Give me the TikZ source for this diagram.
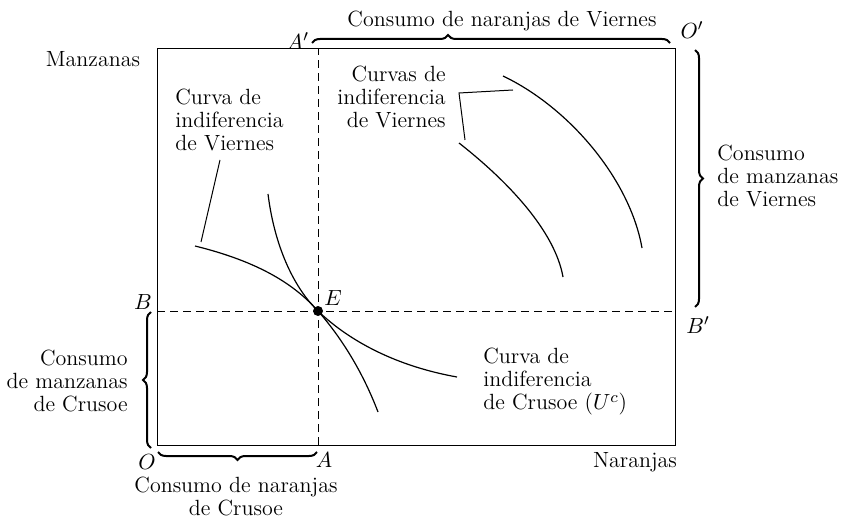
\documentclass[tikz,border=0pt]{standalone}
\usepackage{amsmath}
\usepackage{tikz}
\usetikzlibrary{decorations.pathreplacing,calc}
\tikzset{every picture/.style={>=stealth},
  txt/.style={font=\fontsize{11}{11.5}\selectfont,inner sep=0pt},
  brc/.style={decorate,decoration={brace,amplitude=4pt},line width=1pt},
  curve/.style={line width=0.6pt},
  dsh/.style={dash pattern=on 4pt off 2.5pt,line width=0.4pt}}

\begin{document}
\begin{tikzpicture}[x=0.5pt,y=-0.5pt]
  \useasboundingbox (0,0) rectangle (844,523);
  \coordinate (O) at (157,445);
  \coordinate (Op) at (675,49);
  \coordinate (E) at (318,311);
  \coordinate (A) at (E |- O);
  \coordinate (Ap) at (E |- Op);
  \coordinate (B) at (O |- E);
  \coordinate (Bp) at (Op |- E);
  \draw [line width=0.5pt] (O) rectangle (Op);
  \draw [dsh] (A) -- (Ap);
  \draw [dsh] (B) -- (Bp);
  % curvas de indiferencia
  \draw [curve] (195,246) .. controls (260,262) and (295,285) .. (E)
    .. controls (340,336) and (362,370) .. (378,412);
  \draw [curve] (268,194) .. controls (275,250) and (296,290) .. (E)
    .. controls (345,337) and (390,365) .. (457,377);
  \draw [curve] (503,76) .. controls (570,108) and (630,180) .. (642,248);
  \draw [curve] (459,143) .. controls (510,183) and (555,232) .. (563,277);
  \node (dotE) [circle,fill,inner sep=0pt,minimum size=5pt] at (E) {};
  % etiquetas
  \node (man) [txt] at (93,59) {Manzanas};
  \node (nar) [txt] at (635,462) {Naranjas};
  \node (lO) [txt] at (147,462) {$O$};
  \node (lA) [txt] at (324,460) {$A$};
  \node (lB) [txt] at (143,302) {$B$};
  \node (lBp) [txt] at (698,325) {$B'$};
  \node (lAp) [txt] at (298,41) {$A'$};
  \node (lOp) [txt] at (692,30) {$O'$};
  \node (lE) [txt] at (333,298) {$E$};
  \node (cv) [txt,align=left,anchor=west] at (175,120) {Curva de\\indiferencia\\de Viernes};
  \node (cvs) [txt,align=right,anchor=east] at (446,97) {Curvas de\\indiferencia\\de Viernes};
  \node (cc) [txt,align=left,anchor=west] at (483,382) {Curva de\\indiferencia\\de Crusoe ($U^c$)};
  \node (cnv) [txt] at (502,21) {Consumo de naranjas de Viernes};
  \node (cmv) [txt,align=left,anchor=west] at (717,176) {Consumo\\de manzanas\\de Viernes};
  \node (cmc) [txt,align=right,anchor=east] at (128,381) {Consumo\\de manzanas\\de Crusoe};
  \node (cnc) [txt,align=center] at (236,496) {Consumo de naranjas\\de Crusoe};
  % lineas de referencia
  \coordinate (cv1) at (220,160);
  \coordinate (cv2) at (201,242);
  \draw [line width=0.5pt] (cv1) -- (cv2);
  \coordinate (cvs1) at (513,90);
  \coordinate (cvs2) at (459,93);
  \coordinate (cvs3) at (465,140);
  \draw [line width=0.5pt] (cvs1) -- (cvs2) -- (cvs3);
  % llaves
  \draw [brc,decoration={aspect=0.38}] (312,43) -- (670,43);
  \draw [brc] (695,50) -- (695,307);
  \draw [brc] (151,448) -- (151,312);
  \draw [brc] (317,452) -- (158,452);
\end{tikzpicture}
\end{document}
